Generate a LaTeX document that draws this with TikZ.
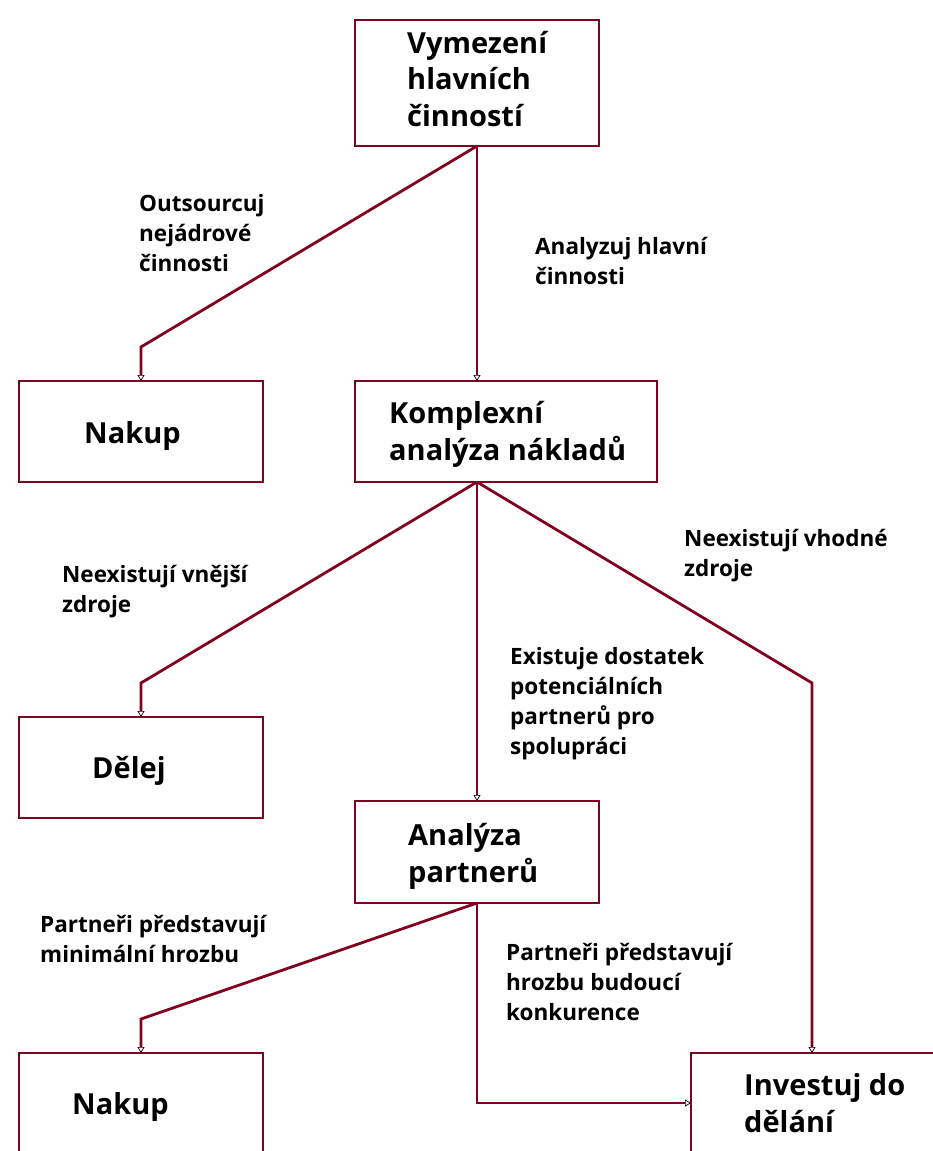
\documentclass[tikz,border=0pt]{standalone}
\usepackage{fontspec}
\setmainfont{Open Sans}
\usetikzlibrary{arrows.meta}
\definecolor{wine}{RGB}{128,0,32}
\tikzset{
  box/.style={draw=wine, line width=2.8pt, fill=white},
  conn/.style={draw=wine, line width=2.8pt, -{Triangle[length=6pt,width=7pt,color=black,fill=white,line width=0.7pt]}},
  lbl/.style={anchor=base west, align=left, inner sep=0pt, font=\bfseries\fontsize{22.5}{30}\selectfont},
  btxt/.style={anchor=base west, align=left, inner sep=0pt, font=\bfseries\fontsize{29}{36.5}\selectfont},
}
\begin{document}
\begin{tikzpicture}[x=1pt,y=-1pt]
\useasboundingbox (0,0) rectangle (932,1151);
% boxes
\path[box] (355,20) rectangle (599,146);
\coordinate (topB) at (477,146);
\path[box] (19,381) rectangle (263,482);
\coordinate (nak1T) at (141,381);
\path[box] (355,381) rectangle (657,482);
\coordinate (kompT) at (477,381);
\coordinate (kompB) at (477,482);
\path[box] (19,717) rectangle (263,818);
\coordinate (delT) at (141,717);
\path[box] (355,801) rectangle (599,903);
\coordinate (anT) at (477,801);
\coordinate (anB) at (477,903);
\path[box] (19,1053) rectangle (263,1160);
\coordinate (nak2T) at (141,1053);
\path[box] (691,1053) rectangle (945,1160);
\coordinate (invT) at (812,1053);
\coordinate (invL) at (691,1103);
% box texts (anchor = baseline of last line)
\node[btxt] (t1) at (407,126) {Vymezení\\hlavních\\činností};
\node[btxt] (t2) at (84,443) {Nakup};
\node[btxt] (t3) at (389,460) {Komplexní\\analýza nákladů};
\node[btxt] (t4) at (92,778) {Dělej};
\node[btxt] (t5) at (408,882) {Analýza\\partnerů};
\node[btxt] (t6) at (72,1114) {Nakup};
\node[btxt] (t7) at (744,1132) {Investuj do\\dělání};
% connectors
\draw[conn] (topB) -- (kompT);
\draw[conn] (topB) -- (141,347) -- (nak1T);
\draw[conn] (kompB) -- (141,683) -- (delT);
\draw[conn] (kompB) -- (anT);
\draw[conn] (kompB) -- (812,683) -- (invT);
\draw[conn] (anB) -- (141,1019) -- (nak2T);
\draw[conn] (anB) -- (477,1103) -- (invL);
% labels (anchor = baseline of last line)
\node[lbl] (l1) at (139,271) {Outsourcuj\\nejádrové\\činnosti};
\node[lbl] (l2) at (535,284) {Analyzuj hlavní\\činnosti};
\node[lbl] (l3) at (62,612) {Neexistují vnější\\zdroje};
\node[lbl] (l4) at (684,576) {Neexistují vhodné\\zdroje};
\node[lbl] (l5) at (510,754) {Existuje dostatek\\potenciálních\\partnerů pro\\spolupráci};
\node[lbl] (l6) at (40,962) {Partneři představují\\minimální hrozbu};
\node[lbl] (l7) at (506,1020) {Partneři představují\\hrozbu budoucí\\konkurence};
\end{tikzpicture}
\end{document}
